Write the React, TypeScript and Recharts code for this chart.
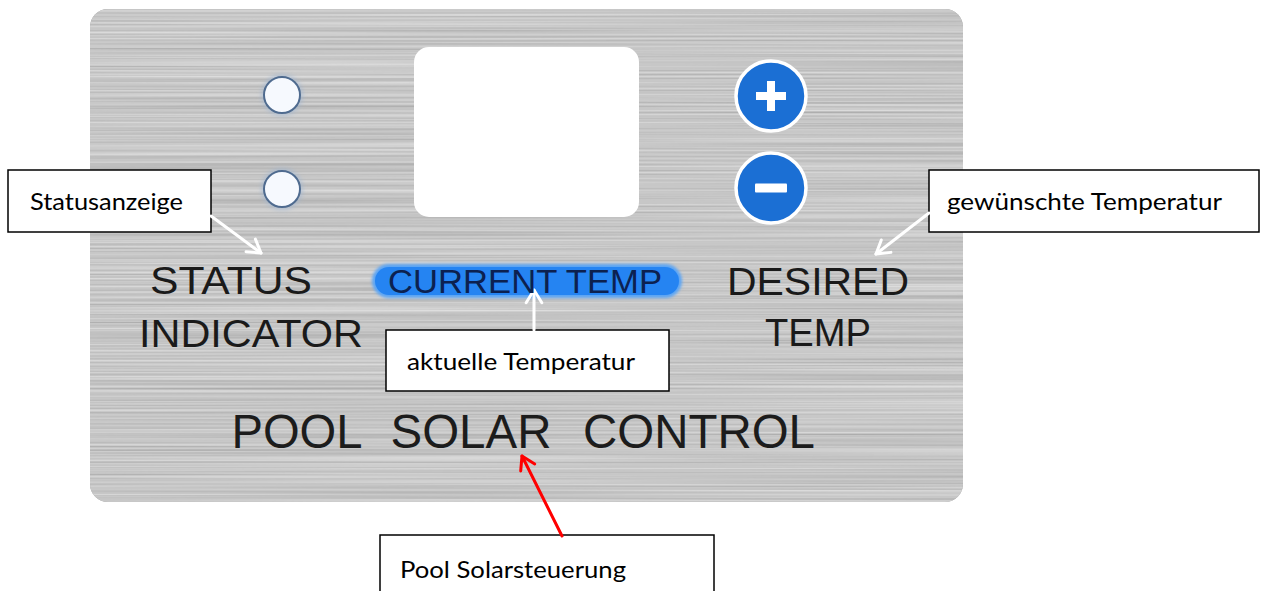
import React from "react";
import {
  ComposedChart,
  XAxis,
  YAxis,
  Scatter,
  ReferenceArea,
  ReferenceLine,
} from "recharts";

const W = 1261;
const H = 591;

// plate, display window and the blue label pill (picture coordinates)
const panelPlate = [{ x1: 90, x2: 963, y1: 9, y2: 502 }];
const displayWindow = [{ x1: 414, x2: 639, y1: 47, y2: 217 }];
const tempPill = [{ x1: 372, x2: 682, y1: 264, y2: 298 }];

const statusLeds = [
  { x: 282, y: 95 },
  { x: 282, y: 189 },
];
const tempButtons = [
  { x: 771, y: 96, sign: "plus" },
  { x: 771, y: 188, sign: "minus" },
];

const panelWords = [
  { x: 231, y: 294, text: "STATUS" },
  { x: 251, y: 347, text: "INDICATOR" },
  { x: 818, y: 295, text: "DESIRED" },
  { x: 818, y: 346, text: "TEMP" },
];
const titleWords = [
  { x: 297, y: 448, text: "POOL" },
  { x: 471, y: 448, text: "SOLAR" },
  { x: 699, y: 448, text: "CONTROL" },
];
const pillWords = [{ x: 525, y: 293, text: "CURRENT TEMP" }];

const calloutBoxes = [
  { x1: 8, x2: 211, y1: 170, y2: 232 },
  { x1: 386, x2: 669, y1: 330, y2: 391 },
  { x1: 929, x2: 1259, y1: 170, y2: 232 },
  { x1: 380, x2: 714, y1: 535, y2: 595 },
];
const calloutTexts = [
  { x: 30, y: 210, text: "Statusanzeige" },
  { x: 407, y: 370, text: "aktuelle Temperatur" },
  { x: 947, y: 210, text: "gewünschte Temperatur" },
  { x: 400, y: 578, text: "Pool Solarsteuerung" },
];

const arrows = [
  { from: { x: 211, y: 216 }, to: { x: 261, y: 253 }, color: "#ffffff" },
  { from: { x: 534, y: 330 }, to: { x: 534, y: 290 }, color: "#ffffff" },
  { from: { x: 929, y: 213 }, to: { x: 876, y: 254 }, color: "#ffffff" },
  { from: { x: 562, y: 536 }, to: { x: 522, y: 456 }, color: "#ff0000" },
];

// rendered widths of the texts
const textSpan: Record<string, number> = {
  Statusanzeige: 153,
  "aktuelle Temperatur": 228,
  "gewünschte Temperatur": 275,
  "Pool Solarsteuerung": 226,
  "CURRENT TEMP": 274,
  STATUS: 162,
  INDICATOR: 224,
  DESIRED: 182,
  TEMP: 106,
  POOL: 131,
  SOLAR: 161,
  CONTROL: 232,
};

const PANEL_FONT = "'Liberation Sans', Arial, sans-serif";
const NOTE_FONT = "Lato, 'Open Sans', sans-serif";

function PlateShape(p: any) {
  const { x, y, width, height } = p;
  return (
    <g>
      <defs>
        <filter id="brushed" x="0" y="0" width="100%" height="100%">
          <feTurbulence type="fractalNoise" baseFrequency="0.0015 0.5" numOctaves="2" seed="5" result="n" />
          <feColorMatrix
            in="n"
            type="matrix"
            values="0.42 0 0 0 0.36  0.42 0 0 0 0.36  0.42 0 0 0 0.36  0 0 0 0 1"
            result="g"
          />
          <feComposite in="g" in2="SourceGraphic" operator="in" />
        </filter>
        <filter id="soft" x="-5%" y="-30%" width="110%" height="160%">
          <feGaussianBlur stdDeviation="1.6" />
        </filter>
        <filter id="halo" x="-50%" y="-50%" width="200%" height="200%">
          <feGaussianBlur stdDeviation="2" />
        </filter>
      </defs>
      <rect x={x} y={y} width={width} height={height} rx={18} fill="#a4a4a4" />
      <rect x={x} y={y} width={width} height={height} rx={18} fill="#000" filter="url(#brushed)" />
    </g>
  );
}

function WindowShape(p: any) {
  return <rect x={p.x} y={p.y} width={p.width} height={p.height} rx={15} fill="#ffffff" />;
}

function PillShape(p: any) {
  const r = p.height / 2;
  return (
    <g>
      <rect x={p.x} y={p.y} width={p.width} height={p.height} rx={r} fill="#5aa4f5" filter="url(#soft)" />
      <rect x={p.x + 3} y={p.y + 3} width={p.width - 6} height={p.height - 6} rx={r - 3} fill="#2584f2" />
    </g>
  );
}

function BoxShape(p: any) {
  return (
    <rect x={p.x} y={p.y} width={p.width} height={p.height} fill="#ffffff" stroke="#000000" strokeWidth={1.5} />
  );
}

function LedShape(p: any) {
  return (
    <g>
      <circle cx={p.cx} cy={p.cy} r={21} fill="#9fb6d3" opacity={0.55} filter="url(#halo)" />
      <circle cx={p.cx} cy={p.cy} r={18} fill="#f6f9fe" stroke="#4f6b8f" strokeWidth={2} />
    </g>
  );
}

function ButtonShape(p: any) {
  const { cx, cy, payload } = p;
  return (
    <g>
      <circle cx={cx} cy={cy} r={35} fill="#1b6fd4" stroke="#ffffff" strokeWidth={3.5} />
      {payload.sign === "plus" ? (
        <g fill="#ffffff">
          <rect x={cx - 15} y={cy - 4} width={30} height={8} />
          <rect x={cx - 4} y={cy - 15} width={8} height={30} />
        </g>
      ) : (
        <rect x={cx - 16} y={cy - 4.5} width={32} height={9} rx={1} fill="#ffffff" />
      )}
    </g>
  );
}

function PanelWord(p: any) {
  const t = p.payload.text;
  return (
    <text
      x={p.cx}
      y={p.cy}
      textAnchor="middle"
      fontFamily={PANEL_FONT}
      fontSize={39}
      fill="#1a1a1a"
      textLength={textSpan[t]}
      lengthAdjust="spacingAndGlyphs"
    >
      {t}
    </text>
  );
}

function TitleWord(p: any) {
  const t = p.payload.text;
  return (
    <text
      x={p.cx}
      y={p.cy}
      textAnchor="middle"
      fontFamily={PANEL_FONT}
      fontSize={48}
      fill="#1c1c1c"
      textLength={textSpan[t]}
      lengthAdjust="spacingAndGlyphs"
    >
      {t}
    </text>
  );
}

function PillWord(p: any) {
  const t = p.payload.text;
  return (
    <text
      x={p.cx}
      y={p.cy}
      textAnchor="middle"
      fontFamily={PANEL_FONT}
      fontSize={33}
      fill="#0c2150"
      textLength={textSpan[t]}
      lengthAdjust="spacingAndGlyphs"
    >
      {t}
    </text>
  );
}

function NoteText(p: any) {
  const t = p.payload.text;
  return (
    <text
      x={p.cx}
      y={p.cy}
      fontFamily={NOTE_FONT}
      fontSize={24}
      fill="#000000"
      textLength={textSpan[t]}
      lengthAdjust="spacingAndGlyphs"
    >
      {t}
    </text>
  );
}

function ArrowShape(p: any) {
  const { x1, y1, x2, y2, color } = p;
  const a = Math.atan2(y2 - y1, x2 - x1);
  const len = 15;
  const spread = 0.55;
  const h1x = x2 - len * Math.cos(a - spread);
  const h1y = y2 - len * Math.sin(a - spread);
  const h2x = x2 - len * Math.cos(a + spread);
  const h2y = y2 - len * Math.sin(a + spread);
  return (
    <g stroke={color} strokeWidth={3} fill="none" strokeLinecap="round" strokeLinejoin="round">
      <line x1={x1} y1={y1} x2={x2} y2={y2} />
      <polyline points={`${h1x},${h1y} ${x2},${y2} ${h2x},${h2y}`} />
    </g>
  );
}

export default function App() {
  return (
    <div style={{ width: W, height: H, background: "#ffffff" }}>
      <style>{"body{margin:0;background:#fff}"}</style>
      <ComposedChart width={W} height={H} margin={{ top: 0, right: 0, bottom: 0, left: 0 }}>
        <XAxis dataKey="x" type="number" domain={[0, W]} hide allowDataOverflow />
        <YAxis dataKey="y" type="number" domain={[0, H]} reversed hide allowDataOverflow />

        {panelPlate.map((r, i) => (
          <ReferenceArea key={`plate${i}`} {...r} ifOverflow="visible" shape={PlateShape} />
        ))}
        {displayWindow.map((r, i) => (
          <ReferenceArea key={`win${i}`} {...r} ifOverflow="visible" shape={WindowShape} />
        ))}
        {tempPill.map((r, i) => (
          <ReferenceArea key={`pill${i}`} {...r} ifOverflow="visible" shape={PillShape} />
        ))}
        {calloutBoxes.map((r, i) => (
          <ReferenceArea key={`box${i}`} {...r} ifOverflow="visible" shape={BoxShape} />
        ))}
        {arrows.map((a, i) => (
          <ReferenceLine
            key={`arrow${i}`}
            segment={[a.from, a.to]}
            ifOverflow="visible"
            shape={(p: any) => <ArrowShape {...p} color={a.color} />}
          />
        ))}

        <Scatter data={statusLeds} shape={LedShape} isAnimationActive={false} />
        <Scatter data={tempButtons} shape={ButtonShape} isAnimationActive={false} />
        <Scatter data={panelWords} shape={PanelWord} isAnimationActive={false} />
        <Scatter data={titleWords} shape={TitleWord} isAnimationActive={false} />
        <Scatter data={pillWords} shape={PillWord} isAnimationActive={false} />
        <Scatter data={calloutTexts} shape={NoteText} isAnimationActive={false} />
      </ComposedChart>
    </div>
  );
}
